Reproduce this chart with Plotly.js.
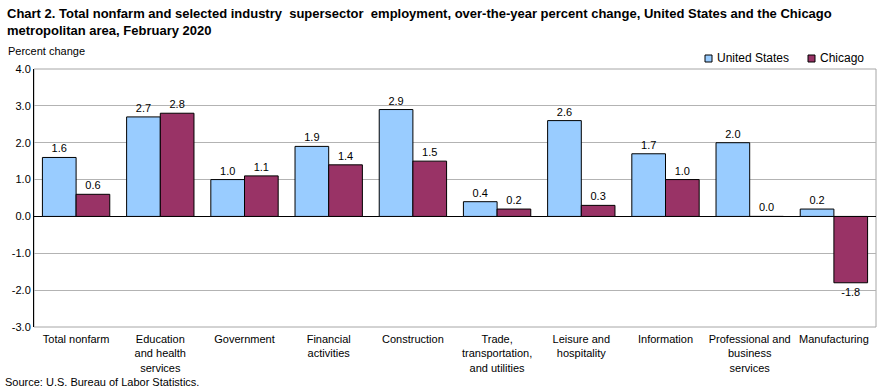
<!DOCTYPE html>
<html>
<head>
<meta charset="utf-8">
<script src="https://cdn.plot.ly/plotly-3.0.1.min.js"></script>
<style>html,body{margin:0;padding:0;background:#fff;}#chart{width:889px;height:392px;}</style>
</head>
<body>
<div id="chart"></div>
<script>
const categories = ["Total nonfarm", "Education<br>and health<br>services", "Government", "Financial<br>activities", "Construction", "Trade,<br>transportation,<br>and utilities", "Leisure and<br>hospitality", "Information", "Professional and<br>business<br>services", "Manufacturing"];
const unitedStates = [1.6, 2.7, 1.0, 1.9, 2.9, 0.4, 2.6, 1.7, 2.0, 0.2];
const chicago = [0.6, 2.8, 1.1, 1.4, 1.5, 0.2, 0.3, 1.0, 0.0, -1.8];
const yTickVals = [-3, -2, -1, 0, 1, 2, 3, 4];
const yTickText = ["-3.0", "-2.0", "-1.0", "0.0", "1.0", "2.0", "3.0", "4.0"];
const seriesNames = ["United States", "Chicago"];
const seriesColors = ["#99CCFF", "#993366"];

const font = "Arial, 'Liberation Sans', sans-serif";
const fmt = v => v.toFixed(1);
const W = 889, H = 392;
const px = x => x / W;           // container x fraction
const py = y => 1 - y / H;       // container y fraction

const traces = [unitedStates, chicago].map((vals, i) => ({
  type: "bar", name: seriesNames[i], x: categories, y: vals,
  marker: {color: seriesColors[i], line: {color: "#000000", width: 1}},
  text: vals.map(fmt), textposition: "outside", cliponaxis: false,
  textfont: {family: font, size: 11, color: "#000"}, hoverinfo: "y+name"
}));

// manual legend (small squares + text), positioned in container pixels
const legendItems = [
  {sq: 705, tx: 715},
  {sq: 808, tx: 818}
];
const legendY = 58;
const shapes = [
  {type: "rect", xref: "paper", yref: "paper", x0: 0, x1: 1, y0: 0, y1: 1,
   line: {color: "#a6a6a6", width: 1}, fillcolor: "rgba(0,0,0,0)", layer: "below"}
];
const annotations = [
  {text: "<b>Chart 2. Total nonfarm and selected industry  supersector  employment, over-the-year percent change, United States and the Chicago<br>metropolitan area, February 2020</b>",
   xref: "paper", yref: "paper", x: (5 - 34) / (W - 34 - 13), xanchor: "left", align: "left",
   y: (327 - 4) / (327 - 69), yanchor: "top", showarrow: false,
   font: {family: font, size: 13, color: "#000"}},
  {text: "Percent change", xref: "paper", yref: "paper", x: (6 - 34) / (W - 47), xanchor: "left",
   y: (327 - 51) / 258, yanchor: "middle", showarrow: false, font: {family: font, size: 11, color: "#000"}},
  {text: "Source: U.S. Bureau of Labor Statistics.", xref: "paper", yref: "paper", x: (3 - 34) / (W - 47), xanchor: "left",
   y: (327 - 382) / 258, yanchor: "middle", showarrow: false, font: {family: font, size: 11, color: "#000"}}
];
legendItems.forEach((it, i) => {
  shapes.push({type: "rect", xref: "paper", yref: "paper",
    x0: (it.sq - 34) / (W - 47), x1: (it.sq + 7 - 34) / (W - 47),
    y0: (327 - (legendY + 4)) / 258, y1: (327 - (legendY - 3)) / 258,
    line: {color: "#000", width: 1}, fillcolor: seriesColors[i]});
  annotations.push({text: seriesNames[i], xref: "paper", yref: "paper",
    x: (it.tx - 34) / (W - 47), xanchor: "left", y: (327 - legendY) / 258, yanchor: "middle",
    showarrow: false, font: {family: font, size: 12, color: "#000"}});
});

const layout = {
  width: W, height: H,
  margin: {l: 34, r: 13, t: 69, b: 65},
  paper_bgcolor: "#fff", plot_bgcolor: "#fff",
  font: {family: font, size: 11, color: "#000"},
  barmode: "group", bargap: 0.2, bargroupgap: 0,
  showlegend: false,
  xaxis: {
    showgrid: false, zeroline: false, showline: false, ticks: "",
    ticklabelstandoff: 4,
    tickfont: {family: font, size: 11, color: "#000"}, fixedrange: true, automargin: false
  },
  yaxis: {
    range: [-3, 4], tickvals: yTickVals, ticktext: yTickText,
    showgrid: true, gridcolor: "#b3b3b3", gridwidth: 1,
    zeroline: true, zerolinecolor: "#000", zerolinewidth: 1,
    showline: true, linecolor: "#000", linewidth: 1, ticks: "",
    tickfont: {family: font, size: 11, color: "#000"}, fixedrange: true, automargin: false
  },
  shapes: shapes,
  annotations: annotations
};

Plotly.newPlot("chart", traces, layout, {displayModeBar: false, staticPlot: true});
</script>
</body>
</html>
